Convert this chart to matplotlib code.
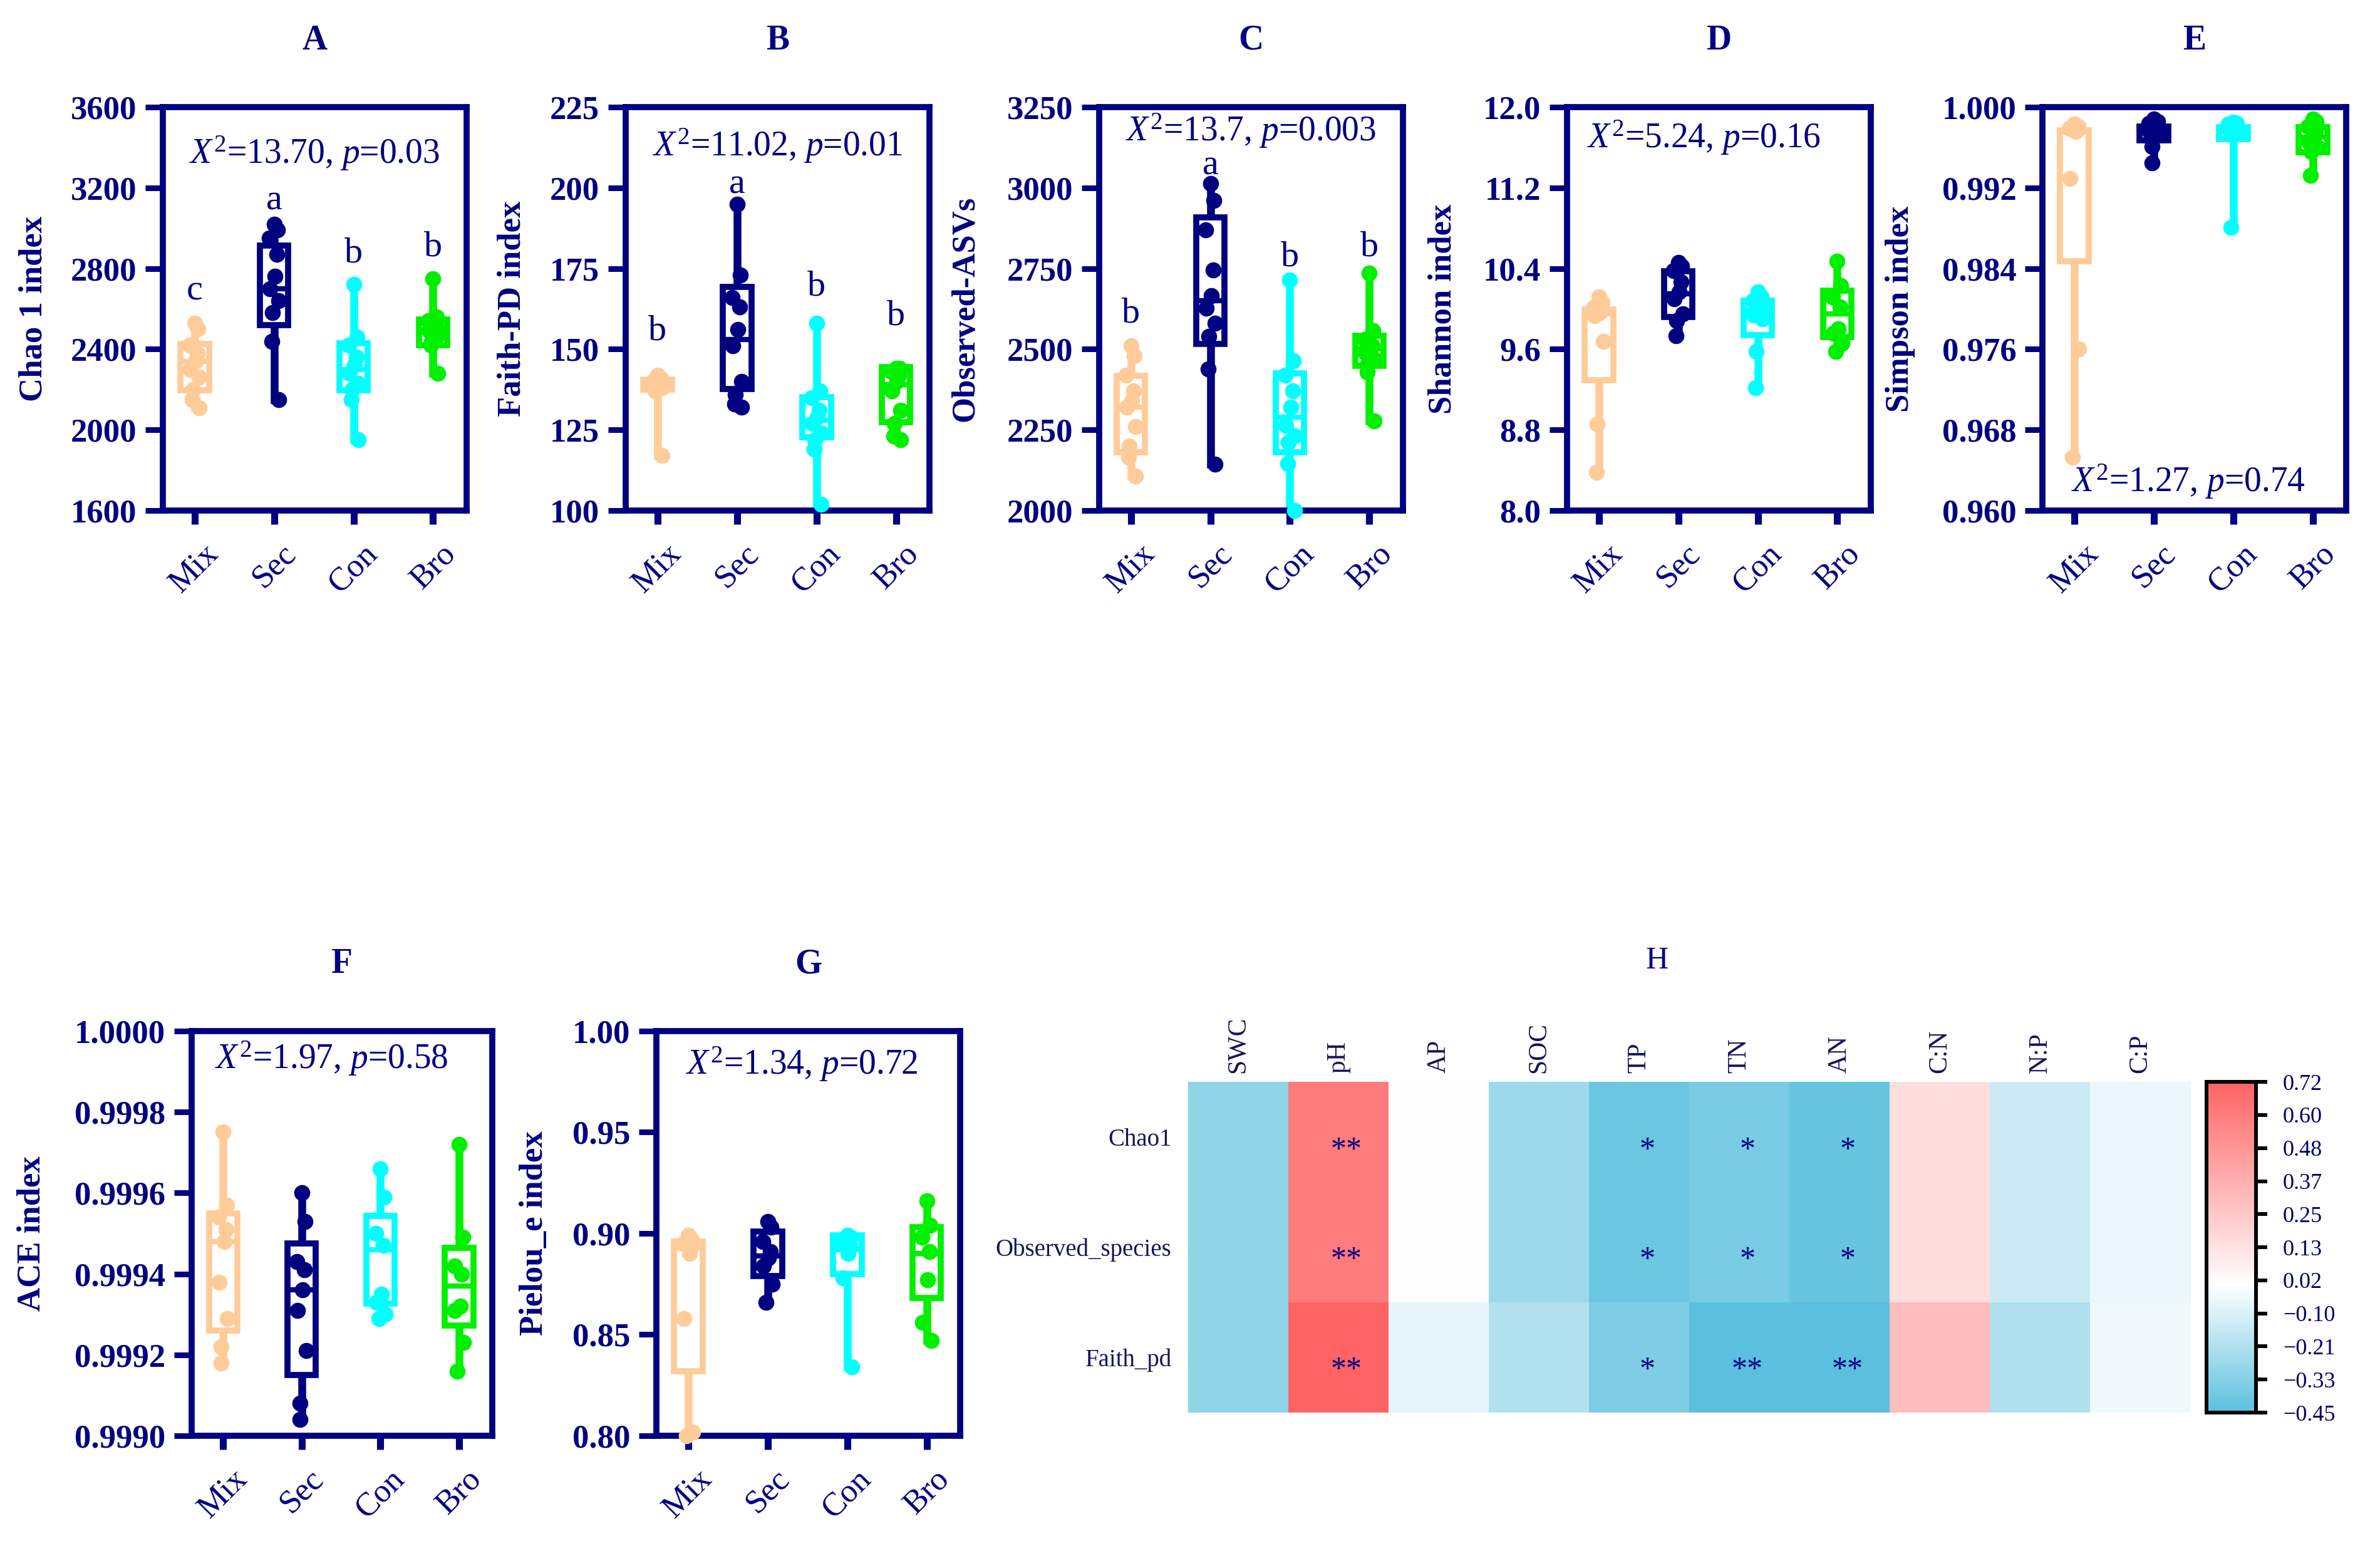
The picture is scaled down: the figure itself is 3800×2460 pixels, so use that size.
import numpy as np
import matplotlib
matplotlib.use('Agg')
import matplotlib.pyplot as plt
from matplotlib.colors import LinearSegmentedColormap, Normalize

plt.rcParams['font.family'] = ['Liberation Serif', 'DejaVu Serif']
plt.rcParams['mathtext.fontset'] = 'custom'
plt.rcParams['mathtext.rm'] = 'Liberation Serif'
plt.rcParams['mathtext.it'] = 'Liberation Serif:italic'

NAVY = '#000080'
groups = ['Mix', 'Sec', 'Con', 'Bro']
group_colors = ['#FFCC99', '#000080', '#00FFFF', '#00F000']

# ---- A: Chao 1 ----
chao1_pts = [[2530, 2500, 2420, 2380, 2340, 2300, 2260, 2200, 2150, 2110],
             [3020, 2990, 2950, 2870, 2760, 2700, 2640, 2580, 2440, 2150],
             [2720, 2460, 2420, 2360, 2320, 2280, 2230, 2200, 2150, 1950],
             [2750, 2560, 2540, 2520, 2500, 2490, 2470, 2440, 2420, 2280]]
chao1_box = [(2195, 2340, 2425), (2520, 2700, 2915), (2195, 2300, 2430), (2420, 2495, 2548)]
chao1_letters = ['c', 'a', 'b', 'b']
chao1_letter_y = [2690, 3135, 2875, 2905]

# ---- B: Faith-PD ----
faith_pts = [[142, 141, 140, 140, 139, 139, 138, 138, 137, 117],
             [195, 173, 166, 163, 156, 151, 140, 136, 133, 132],
             [158, 137, 135, 131, 129, 127, 124, 122, 119, 102],
             [144, 144, 143, 142, 140, 137, 131, 127, 123, 122]]
faith_box = [(137.5, 139, 140.5), (137.6, 153, 169.2), (122.7, 128, 135.1), (127.3, 139, 144.4)]
faith_letters = ['b', 'a', 'b', 'b']
faith_letter_y = [155.6, 201, 169.4, 160.3]

# ---- C: Observed ASVs ----
obs_pts = [[2510, 2480, 2420, 2370, 2340, 2320, 2260, 2200, 2165, 2107],
           [3014, 2960, 2870, 2745, 2665, 2627, 2580, 2540, 2438, 2143],
           [2714, 2463, 2420, 2370, 2320, 2264, 2230, 2211, 2146, 2000],
           [2735, 2558, 2530, 2510, 2500, 2490, 2470, 2450, 2429, 2277]]
obs_box = [(2181, 2320, 2417), (2516, 2650, 2909), (2181, 2290, 2425), (2448, 2500, 2541)]
obs_letters = ['b', 'a', 'b', 'b']
obs_letter_y = [2611, 3068, 2785, 2816]

# ---- D: Shannon ----
shannon_pts = [[10.12, 10.06, 10.02, 9.98, 9.96, 9.93, 9.68, 8.86, 8.38],
               [10.46, 10.42, 10.38, 10.27, 10.17, 10.10, 9.95, 9.88, 9.73],
               [10.17, 10.12, 10.08, 10.05, 10.00, 9.94, 9.90, 9.58, 9.22],
               [10.47, 10.23, 10.12, 10.02, 9.80, 9.76, 9.66, 9.58]]
shannon_box = [(9.29, 9.95, 9.996), (9.92, 10.15, 10.37), (9.74, 9.98, 10.08), (9.72, 9.95, 10.18)]

# ---- E: Simpson ----
simpson_pts = [[0.9983, 0.9981, 0.9979, 0.9977, 0.9976, 0.9929, 0.9760, 0.9653],
               [0.9988, 0.9986, 0.9984, 0.9981, 0.9979, 0.9976, 0.9972, 0.9961, 0.9945],
               [0.9985, 0.9984, 0.9983, 0.9982, 0.9980, 0.9978, 0.9976, 0.9974, 0.9881],
               [0.9988, 0.9986, 0.9981, 0.9976, 0.9970, 0.9966, 0.9960, 0.9956, 0.9932]]
simpson_box = [(0.9847, 0.9975, 0.9977), (0.9967, 0.9976, 0.9981), (0.9968, 0.9976, 0.9980), (0.9955, 0.9970, 0.9980)]

# ---- F: ACE ----
ace_pts = [[0.99975, 0.99957, 0.99954, 0.99951, 0.99948, 0.99938, 0.99929, 0.99922, 0.99918],
           [0.99960, 0.99953, 0.99943, 0.99941, 0.99936, 0.99931, 0.99921, 0.99908, 0.99904],
           [0.99966, 0.99959, 0.99950, 0.99947, 0.99935, 0.99933, 0.99930, 0.99929],
           [0.99972, 0.99949, 0.99942, 0.99940, 0.99932, 0.99931, 0.99923, 0.99916]]
ace_box = [(0.99926, 0.99948, 0.99955), (0.99915, 0.99936, 0.999475), (0.999327, 0.99946, 0.999543), (0.999272, 0.99937, 0.999464)]

# ---- G: Pielou_e ----
pielou_pts = [[0.899, 0.897, 0.895, 0.893, 0.890, 0.858, 0.802, 0.800],
              [0.906, 0.903, 0.896, 0.891, 0.888, 0.884, 0.875, 0.866],
              [0.899, 0.898, 0.896, 0.894, 0.890, 0.878, 0.834],
              [0.916, 0.904, 0.898, 0.891, 0.877, 0.856, 0.847]]
pielou_box = [(0.832, 0.893, 0.896), (0.879, 0.889, 0.901), (0.880, 0.892, 0.899), (0.868, 0.890, 0.903)]

# ---- H: correlation heatmap ----
soil_vars = ['SWC', 'pH', 'AP', 'SOC', 'TP', 'TN', 'AN', 'C:N', 'N:P', 'C:P']
alpha_vars = ['Chao1', 'Observed_species', 'Faith_pd']
corr_chao1 = [-0.30, 0.60, 0.00, -0.27, -0.40, -0.36, -0.41, 0.15, -0.14, -0.05]
corr_observed = [-0.30, 0.60, 0.00, -0.27, -0.40, -0.36, -0.41, 0.15, -0.14, -0.05]
corr_faith = [-0.30, 0.72, -0.07, -0.21, -0.35, -0.45, -0.45, 0.30, -0.22, -0.04]
sig_chao1 = ['', '**', '', '', '*', '*', '*', '', '', '']
sig_observed = ['', '**', '', '', '*', '*', '*', '', '', '']
sig_faith = ['', '**', '', '', '*', '**', '**', '', '', '']
cbar_ticklabels = ['\u22120.45', '\u22120.33', '\u22120.21', '\u22120.10', '0.02', '0.13',
                   '0.25', '0.37', '0.48', '0.60', '0.72']


def stat_text(chi, p):
    return r'$\mathit{X}^{2}$=' + chi + r', $\mathit{p}$=' + p


def box_panel(ax, title, ylabel, pts, boxes, ticks, fmt, stat, stat_xy, label_x,
              letters=None, letter_y=None):
    stats = []
    for p, (q1, med, q3) in zip(pts, boxes):
        stats.append({'q1': q1, 'med': med, 'q3': q3,
                      'whislo': min(p), 'whishi': max(p), 'fliers': []})
    bp = ax.bxp(stats, positions=[1, 2, 3, 4], widths=0.36, patch_artist=True,
                showcaps=False, showfliers=False)
    for i, c in enumerate(group_colors):
        bp['boxes'][i].set(facecolor='white', edgecolor=c, linewidth=7, zorder=2)
        bp['medians'][i].set(color=c, linewidth=6, zorder=3)
        for w in bp['whiskers'][2 * i:2 * i + 2]:
            w.set(color=c, linewidth=9, zorder=1)
        vals = np.array(pts[i])
        offs = 0.06 * np.sin(np.arange(len(vals)) * 2.3)
        ax.scatter(i + 1 + offs, vals, s=340, color=c, linewidths=0,
                   zorder=4, clip_on=False)

    ax.set_xlim(0.6, 4.42)
    ax.set_ylim(ticks[0], ticks[-1])
    ax.set_yticks(ticks)
    ax.set_yticklabels([fmt.format(t) for t in ticks], fontsize=38,
                       fontweight='bold', color=NAVY)
    ax.set_xticks([1, 2, 3, 4])
    ax.set_xticklabels(groups, rotation=45, ha='center', va='top',
                       fontsize=38, color=NAVY)
    ax.tick_params(axis='y', direction='out', length=20, width=6.5, color=NAVY, pad=10)
    ax.tick_params(axis='x', direction='out', length=16, width=8, color=NAVY, pad=16)
    for s in ax.spines.values():
        s.set_color(NAVY)
        s.set_linewidth(7)
    ax.set_ylabel(ylabel, fontsize=38, fontweight='bold', color=NAVY)
    ax.yaxis.set_label_coords(label_x, 0.5)
    ax.text(0.5, 1.165, title, transform=ax.transAxes, ha='center', va='center',
            fontsize=40, fontweight='bold', color=NAVY)
    ax.text(stat_xy[0], stat_xy[1], stat, transform=ax.transAxes, ha='center',
            va='center', fontsize=40, color=NAVY)
    if letters:
        for i, (l, y) in enumerate(zip(letters, letter_y)):
            ax.text(i + 1, y, l, ha='center', va='center', fontsize=42, color=NAVY)


fig = plt.figure(figsize=(38, 24.6), dpi=100)

top_b, top_h, w = 0.6687, 0.2618, 0.1276
axA = fig.add_axes([0.0684, top_b, w, top_h])
axB = fig.add_axes([0.2629, top_b, w, top_h])
axC = fig.add_axes([0.4618, top_b, w, top_h])
axD = fig.add_axes([0.6584, top_b, w, top_h])
axE = fig.add_axes([0.8582, top_b, w, top_h])
axF = fig.add_axes([0.0805, 0.0683, 0.1263, 0.2626])
axG = fig.add_axes([0.2758, 0.0683, w, 0.2626])

box_panel(axA, 'A', 'Chao 1 index', chao1_pts, chao1_box,
          np.linspace(1600, 3600, 6), '{:.0f}', stat_text('13.70', '0.03'),
          (0.5, 0.886), -0.377, chao1_letters, chao1_letter_y)
box_panel(axB, 'B', 'Faith-PD index', faith_pts, faith_box,
          np.linspace(100, 225, 6), '{:.0f}', stat_text('11.02', '0.01'),
          (0.5, 0.905), -0.324, faith_letters, faith_letter_y)
box_panel(axC, 'C', 'Observed-ASVs', obs_pts, obs_box,
          np.linspace(2000, 3250, 6), '{:.0f}', stat_text('13.7', '0.003'),
          (0.5, 0.942), -0.39, obs_letters, obs_letter_y)
box_panel(axD, 'D', 'Shannon index', shannon_pts, shannon_box,
          np.linspace(8.0, 12.0, 6), '{:.1f}', stat_text('5.24', '0.16'),
          (0.45, 0.925), -0.36)
box_panel(axE, 'E', 'Simpson index', simpson_pts, simpson_box,
          np.linspace(0.960, 1.000, 6), '{:.3f}', stat_text('1.27', '0.74'),
          (0.48, 0.072), -0.42)
box_panel(axF, 'F', 'ACE index', ace_pts, ace_box,
          np.linspace(0.9990, 1.0000, 6), '{:.4f}', stat_text('1.97', '0.58'),
          (0.465, 0.932), -0.483)
box_panel(axG, 'G', 'Pielou_e index', pielou_pts, pielou_box,
          np.linspace(0.80, 1.00, 5), '{:.2f}', stat_text('1.34', '0.72'),
          (0.48, 0.918), -0.353)

# heatmap
vmin, vmax = -0.45, 0.72
mid = -vmin / (vmax - vmin)
cmap = LinearSegmentedColormap.from_list(
    'bwr_custom', [(0.0, '#5BC0DE'), (mid, '#FFFFFF'), (1.0, '#FF6363')])
corr = np.array([corr_chao1, corr_observed, corr_faith])
sig = [sig_chao1, sig_observed, sig_faith]

axH = fig.add_axes([0.4992, 0.0833, 0.4211, 0.2146])
im = axH.imshow(corr, cmap=cmap, norm=Normalize(vmin, vmax), aspect='auto',
                interpolation='nearest')
axH.set_xticks(range(len(soil_vars)))
axH.set_xticklabels(soil_vars, rotation=90, fontsize=30, color='#14145A')
axH.xaxis.tick_top()
axH.set_yticks(range(len(alpha_vars)))
axH.set_yticklabels(alpha_vars, fontsize=28, color='#14145A')
axH.tick_params(axis='x', length=0, pad=10)
axH.tick_params(axis='y', length=0, pad=19)
for s in axH.spines.values():
    s.set_visible(False)
for r in range(len(alpha_vars)):
    for c in range(len(soil_vars)):
        if sig[r][c]:
            axH.text(c + 0.08, r + 0.12, sig[r][c], ha='center', va='center',
                     fontsize=36, color=NAVY)
fig.text(0.6963, 0.3764, 'H', ha='center', va='center', fontsize=36, color=NAVY)

cax = fig.add_axes([0.9271, 0.0833, 0.0208, 0.2146])
cb = fig.colorbar(im, cax=cax, ticks=np.linspace(vmin, vmax, 11))
cb.ax.set_yticklabels(cbar_ticklabels, fontsize=26, color='#000066')
cb.outline.set_linewidth(4.3)
cb.outline.set_edgecolor('black')
cb.ax.tick_params(length=13, width=4.3, color='black', pad=18)

fig.savefig('out.png', dpi=100, facecolor='white')
